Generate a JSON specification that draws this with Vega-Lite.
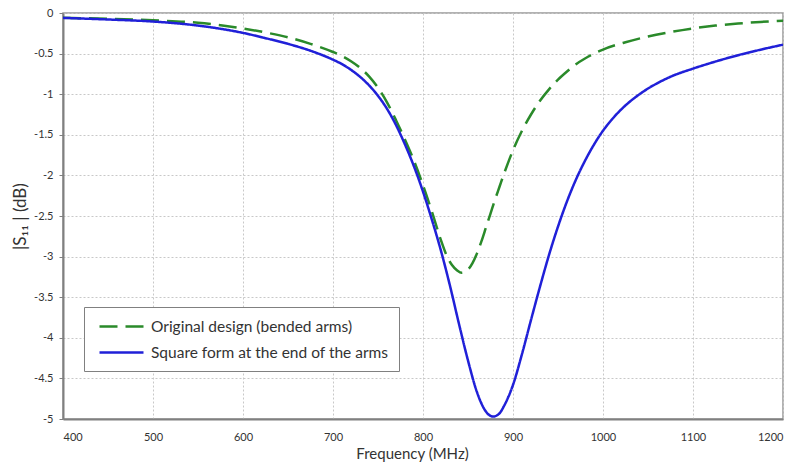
{
  "$schema": "https://vega.github.io/schema/vega-lite/v6.json",
  "width": 720,
  "height": 406,
  "autosize": {"type": "none"},
  "padding": {"left": 63, "top": 13, "right": 2, "bottom": 47},
  "background": "white",
  "config": {
    "font": "Lato",
    "view": {"stroke": "#999999", "strokeWidth": 1.5},
    "axis": {
      "domainColor": "#808080",
      "domainWidth": 2,
      "gridColor": "#c8c8c8",
      "gridDash": [2, 2],
      "gridWidth": 1,
      "labelColor": "#333333",
      "labelFont": "Lato",
      "labelFontSize": 11,
      "titleFont": "Lato",
      "titleFontWeight": "normal",
      "titleColor": "#333333",
      "tickColor": "#808080"
    }
  },
  "data": {
    "values": [
      {"f": 400, "v": -0.06, "s": "Original design (bended arms)"},
      {"f": 450, "v": -0.07, "s": "Original design (bended arms)"},
      {"f": 500, "v": -0.09, "s": "Original design (bended arms)"},
      {"f": 550, "v": -0.12, "s": "Original design (bended arms)"},
      {"f": 600, "v": -0.19, "s": "Original design (bended arms)"},
      {"f": 625, "v": -0.24, "s": "Original design (bended arms)"},
      {"f": 650, "v": -0.30, "s": "Original design (bended arms)"},
      {"f": 675, "v": -0.38, "s": "Original design (bended arms)"},
      {"f": 700, "v": -0.48, "s": "Original design (bended arms)"},
      {"f": 710, "v": -0.53, "s": "Original design (bended arms)"},
      {"f": 720, "v": -0.595, "s": "Original design (bended arms)"},
      {"f": 730, "v": -0.675, "s": "Original design (bended arms)"},
      {"f": 740, "v": -0.78, "s": "Original design (bended arms)"},
      {"f": 750, "v": -0.92, "s": "Original design (bended arms)"},
      {"f": 760, "v": -1.10, "s": "Original design (bended arms)"},
      {"f": 770, "v": -1.32, "s": "Original design (bended arms)"},
      {"f": 780, "v": -1.56, "s": "Original design (bended arms)"},
      {"f": 790, "v": -1.82, "s": "Original design (bended arms)"},
      {"f": 800, "v": -2.12, "s": "Original design (bended arms)"},
      {"f": 810, "v": -2.45, "s": "Original design (bended arms)"},
      {"f": 820, "v": -2.80, "s": "Original design (bended arms)"},
      {"f": 826, "v": -2.98, "s": "Original design (bended arms)"},
      {"f": 832, "v": -3.10, "s": "Original design (bended arms)"},
      {"f": 838, "v": -3.17, "s": "Original design (bended arms)"},
      {"f": 843, "v": -3.20, "s": "Original design (bended arms)"},
      {"f": 850, "v": -3.16, "s": "Original design (bended arms)"},
      {"f": 855, "v": -3.08, "s": "Original design (bended arms)"},
      {"f": 860, "v": -2.96, "s": "Original design (bended arms)"},
      {"f": 865, "v": -2.81, "s": "Original design (bended arms)"},
      {"f": 870, "v": -2.64, "s": "Original design (bended arms)"},
      {"f": 875, "v": -2.47, "s": "Original design (bended arms)"},
      {"f": 880, "v": -2.30, "s": "Original design (bended arms)"},
      {"f": 885, "v": -2.14, "s": "Original design (bended arms)"},
      {"f": 890, "v": -1.98, "s": "Original design (bended arms)"},
      {"f": 895, "v": -1.83, "s": "Original design (bended arms)"},
      {"f": 900, "v": -1.69, "s": "Original design (bended arms)"},
      {"f": 910, "v": -1.45, "s": "Original design (bended arms)"},
      {"f": 920, "v": -1.25, "s": "Original design (bended arms)"},
      {"f": 930, "v": -1.08, "s": "Original design (bended arms)"},
      {"f": 940, "v": -0.94, "s": "Original design (bended arms)"},
      {"f": 950, "v": -0.82, "s": "Original design (bended arms)"},
      {"f": 960, "v": -0.72, "s": "Original design (bended arms)"},
      {"f": 970, "v": -0.63, "s": "Original design (bended arms)"},
      {"f": 980, "v": -0.56, "s": "Original design (bended arms)"},
      {"f": 990, "v": -0.50, "s": "Original design (bended arms)"},
      {"f": 1000, "v": -0.45, "s": "Original design (bended arms)"},
      {"f": 1025, "v": -0.36, "s": "Original design (bended arms)"},
      {"f": 1050, "v": -0.29, "s": "Original design (bended arms)"},
      {"f": 1075, "v": -0.235, "s": "Original design (bended arms)"},
      {"f": 1100, "v": -0.19, "s": "Original design (bended arms)"},
      {"f": 1125, "v": -0.155, "s": "Original design (bended arms)"},
      {"f": 1150, "v": -0.13, "s": "Original design (bended arms)"},
      {"f": 1175, "v": -0.11, "s": "Original design (bended arms)"},
      {"f": 1200, "v": -0.095, "s": "Original design (bended arms)"},
      {"f": 400, "v": -0.06, "s": "Square form at the end of the arms"},
      {"f": 450, "v": -0.08, "s": "Square form at the end of the arms"},
      {"f": 500, "v": -0.105, "s": "Square form at the end of the arms"},
      {"f": 550, "v": -0.155, "s": "Square form at the end of the arms"},
      {"f": 600, "v": -0.245, "s": "Square form at the end of the arms"},
      {"f": 625, "v": -0.31, "s": "Square form at the end of the arms"},
      {"f": 650, "v": -0.38, "s": "Square form at the end of the arms"},
      {"f": 675, "v": -0.465, "s": "Square form at the end of the arms"},
      {"f": 700, "v": -0.575, "s": "Square form at the end of the arms"},
      {"f": 710, "v": -0.63, "s": "Square form at the end of the arms"},
      {"f": 720, "v": -0.70, "s": "Square form at the end of the arms"},
      {"f": 730, "v": -0.785, "s": "Square form at the end of the arms"},
      {"f": 740, "v": -0.89, "s": "Square form at the end of the arms"},
      {"f": 750, "v": -1.02, "s": "Square form at the end of the arms"},
      {"f": 760, "v": -1.18, "s": "Square form at the end of the arms"},
      {"f": 770, "v": -1.38, "s": "Square form at the end of the arms"},
      {"f": 780, "v": -1.62, "s": "Square form at the end of the arms"},
      {"f": 790, "v": -1.89, "s": "Square form at the end of the arms"},
      {"f": 800, "v": -2.20, "s": "Square form at the end of the arms"},
      {"f": 810, "v": -2.55, "s": "Square form at the end of the arms"},
      {"f": 820, "v": -2.93, "s": "Square form at the end of the arms"},
      {"f": 830, "v": -3.36, "s": "Square form at the end of the arms"},
      {"f": 840, "v": -3.83, "s": "Square form at the end of the arms"},
      {"f": 850, "v": -4.28, "s": "Square form at the end of the arms"},
      {"f": 860, "v": -4.67, "s": "Square form at the end of the arms"},
      {"f": 870, "v": -4.91, "s": "Square form at the end of the arms"},
      {"f": 878, "v": -4.97, "s": "Square form at the end of the arms"},
      {"f": 885, "v": -4.93, "s": "Square form at the end of the arms"},
      {"f": 890, "v": -4.84, "s": "Square form at the end of the arms"},
      {"f": 900, "v": -4.58, "s": "Square form at the end of the arms"},
      {"f": 910, "v": -4.20, "s": "Square form at the end of the arms"},
      {"f": 920, "v": -3.78, "s": "Square form at the end of the arms"},
      {"f": 930, "v": -3.37, "s": "Square form at the end of the arms"},
      {"f": 940, "v": -2.98, "s": "Square form at the end of the arms"},
      {"f": 950, "v": -2.63, "s": "Square form at the end of the arms"},
      {"f": 960, "v": -2.32, "s": "Square form at the end of the arms"},
      {"f": 970, "v": -2.05, "s": "Square form at the end of the arms"},
      {"f": 980, "v": -1.82, "s": "Square form at the end of the arms"},
      {"f": 990, "v": -1.62, "s": "Square form at the end of the arms"},
      {"f": 1000, "v": -1.45, "s": "Square form at the end of the arms"},
      {"f": 1010, "v": -1.31, "s": "Square form at the end of the arms"},
      {"f": 1020, "v": -1.19, "s": "Square form at the end of the arms"},
      {"f": 1030, "v": -1.09, "s": "Square form at the end of the arms"},
      {"f": 1040, "v": -1.005, "s": "Square form at the end of the arms"},
      {"f": 1050, "v": -0.93, "s": "Square form at the end of the arms"},
      {"f": 1060, "v": -0.867, "s": "Square form at the end of the arms"},
      {"f": 1075, "v": -0.785, "s": "Square form at the end of the arms"},
      {"f": 1100, "v": -0.685, "s": "Square form at the end of the arms"},
      {"f": 1125, "v": -0.598, "s": "Square form at the end of the arms"},
      {"f": 1150, "v": -0.52, "s": "Square form at the end of the arms"},
      {"f": 1175, "v": -0.452, "s": "Square form at the end of the arms"},
      {"f": 1200, "v": -0.39, "s": "Square form at the end of the arms"}
    ]
  },
  "mark": {"type": "line", "strokeWidth": 2.5, "interpolate": "monotone", "clip": true},
  "encoding": {
    "x": {
      "field": "f",
      "type": "quantitative",
      "scale": {"domain": [400, 1200], "nice": false, "zero": false},
      "axis": {
        "title": "Frequency (MHz)",
        "titleFontSize": 15,
        "titlePadding": 4,
        "titleX": 349,
        "values": [400, 500, 600, 700, 800, 900, 1000, 1100, 1200],
        "labelExpr": "'' + datum.value",
        "ticks": false,
        "labelPadding": 12,
        "labelFlush": true
      }
    },
    "y": {
      "field": "v",
      "type": "quantitative",
      "scale": {"domain": [-5, 0], "nice": false, "zero": false},
      "axis": {
        "title": "|S₁₁ | (dB)",
        "titleFontSize": 17,
        "titlePadding": 4,
        "values": [0, -0.5, -1, -1.5, -2, -2.5, -3, -3.5, -4, -4.5, -5],
        "labelExpr": "'' + datum.value",
        "tickSize": 4,
        "labelPadding": 6
      }
    },
    "color": {
      "field": "s",
      "type": "nominal",
      "scale": {
        "domain": ["Original design (bended arms)", "Square form at the end of the arms"],
        "range": ["#2a8a2a", "#2020d8"]
      },
      "legend": {
        "title": null,
        "orient": "none",
        "legendX": 21,
        "legendY": 294,
        "strokeColor": "#808080",
        "fillColor": "white",
        "padding": 10,
        "symbolType": "M-0.5,0H5",
        "symbolSize": 256,
        "symbolStrokeWidth": 2.5,
        "labelFontSize": 15.5,
        "labelColor": "#333333",
        "labelOffset": 38,
        "rowPadding": 8,
        "labelLimit": 400
      }
    },
    "strokeDash": {
      "field": "s",
      "type": "nominal",
      "scale": {
        "domain": ["Original design (bended arms)", "Square form at the end of the arms"],
        "range": [[18, 8], [1, 0]]
      },
      "legend": null
    }
  }
}
